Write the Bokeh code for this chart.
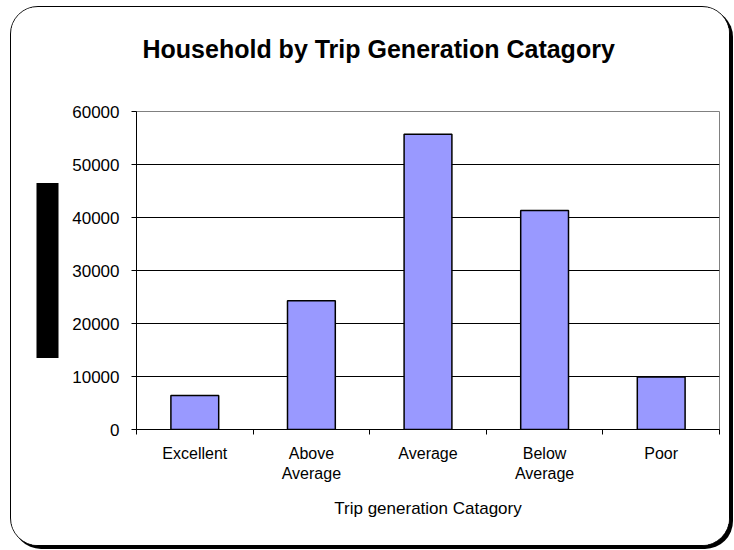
from bokeh.plotting import figure
from bokeh.models import (Range1d, FixedTicker, BasicTickFormatter, ColorBar, LinearColorMapper)
from bokeh.embed import file_html
from bokeh.resources import INLINE

# Households per trip generation category
categories = ["Excellent", "Above Average", "Average", "Below Average", "Poor"]
tick_labels = ["Excellent", "Above\nAverage", "Average", "Below\nAverage", "Poor"]
households = [6400, 24300, 55700, 41300, 9900]
y_ticks = [0, 10000, 20000, 30000, 40000, 50000, 60000]

FONT = "Liberation Sans"

centers = [i + 0.5 for i in range(len(categories))]
bounds = [float(i) for i in range(len(categories) + 1)]

p = figure(width=720, height=540, output_backend="svg", toolbar_location=None,
           x_range=Range1d(0, len(categories)), y_range=Range1d(y_ticks[0], y_ticks[-1]),
           min_border_left=125, min_border_right=12, min_border_top=104, min_border_bottom=118)
p.margin = (6, 0, 0, 10)
p.styles = {"border": "1.5px solid black", "border-radius": "28px",
            "box-shadow": "3px 3px 0px 0px black", "overflow": "hidden",
            "background-color": "white"}
p.background_fill_color = "white"
p.border_fill_color = "white"
p.outline_line_color = "#808080"
p.outline_line_width = 1

# trailing blank line lifts the title towards the top of the card
p.title.text = "Household by Trip Generation Catagory\n"
p.title.align = "left"
p.title.offset = 6
p.title.text_font = FONT
p.title.text_font_size = "25px"
p.title.text_font_style = "bold"
p.title.text_color = "black"
p.title.standoff = 42

# solid block beside the value axis
block = ColorBar(color_mapper=LinearColorMapper(palette=["black"], low=0, high=1),
                 width=22, height=175, padding=11, margin=0, location="center",
                 ticker=FixedTicker(ticks=[]), major_tick_line_color=None,
                 minor_tick_line_color=None, bar_line_color=None,
                 border_line_color=None, background_fill_alpha=0)
p.add_layout(block, "left")

p.vbar(x=centers, top=households, width=0.41, bottom=0,
       fill_color="#9999FF", line_color="black", line_width=1.5)

p.xgrid.visible = False
p.ygrid.ticker = FixedTicker(ticks=y_ticks)
p.ygrid.grid_line_color = "black"
p.ygrid.grid_line_width = 1

xa = p.xaxis[0]
xa.ticker = FixedTicker(ticks=centers, minor_ticks=bounds)
xa.major_label_overrides = {c: t for c, t in zip(centers, tick_labels)}
xa.major_tick_out = 0
xa.major_tick_in = 0
xa.minor_tick_out = 5
xa.minor_tick_in = 0
xa.minor_tick_line_color = "black"
xa.axis_line_color = "black"
xa.major_label_text_font = FONT
xa.major_label_text_font_size = "16px"
xa.major_label_text_color = "black"
xa.major_label_standoff = 10
xa.axis_label = "Trip generation Catagory"
xa.axis_label_text_font = FONT
xa.axis_label_text_font_size = "17px"
xa.axis_label_text_font_style = "normal"
xa.axis_label_text_color = "black"
xa.axis_label_standoff = 14

ya = p.yaxis[0]
ya.ticker = FixedTicker(ticks=y_ticks)
ya.formatter = BasicTickFormatter(use_scientific=False)
ya.major_tick_out = 5
ya.major_tick_in = 0
ya.minor_tick_out = 0
ya.minor_tick_in = 0
ya.major_tick_line_color = "black"
ya.axis_line_color = "black"
ya.major_label_text_font = FONT
ya.major_label_text_font_size = "17px"
ya.major_label_text_color = "black"
ya.major_label_standoff = 12

open("out.html", "w").write(file_html(p, INLINE))
